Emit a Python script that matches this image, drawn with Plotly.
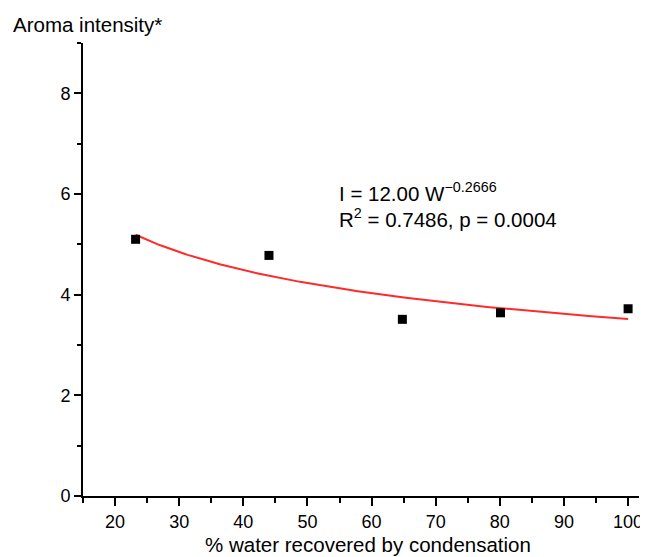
import plotly.graph_objects as go
import numpy as np

# Data
water_pct = [23.2, 44.0, 64.8, 80.1, 100.0]
aroma = [5.10, 4.78, 3.51, 3.64, 3.72]

# Fitted power law shown on chart: I = 12.00 W^-0.2666
fit_a = 12.00
fit_b = -0.2666
fit_x_start = 23.2
fit_x_end = 100.0

x_tick_vals = [20, 30, 40, 50, 60, 70, 80, 90, 100]
y_tick_vals = [0, 2, 4, 6, 8]

# page is rendered with an 8px body margin; compensate
OFF = 8
PAGE_W, PAGE_H = 648, 557
W, H = PAGE_W - OFF, PAGE_H - OFF
# plot area in page pixels: left 83, right 643, top 43, bottom 496
L = 83 - OFF
T = 43 - OFF
R = W - (643 - OFF)
B = H - (496 - OFF)
pw, ph = W - L - R, H - T - B

def px_x(p):
    return (p - OFF - L) / pw

def px_y(p):
    return (H - B - (p - OFF)) / ph

fit_x = np.linspace(fit_x_start, fit_x_end, 200)
fit_y = fit_a * fit_x ** fit_b

FONT = "Liberation Sans, Arial, sans-serif"

fig = go.Figure()
fig.add_trace(go.Scatter(x=fit_x, y=fit_y, mode="lines",
                         line=dict(color="#ff2a2a", width=2), hoverinfo="skip",
                         showlegend=False))
fig.add_trace(go.Scatter(x=water_pct, y=aroma, mode="markers",
                         marker=dict(symbol="square", size=9, color="black"),
                         showlegend=False))

axis_common = dict(showgrid=False, zeroline=False, showline=True, linecolor="black",
                   linewidth=2, ticks="outside", tickcolor="black", tickwidth=2,
                   tickfont=dict(family=FONT, size=18, color="black"))

fig.update_xaxes(range=[15, 101.7], tickvals=x_tick_vals, ticklen=8,
                 minor=dict(dtick=5, tick0=0, ticks="outside", ticklen=5,
                            tickwidth=2, tickcolor="black"),
                 **axis_common)
fig.update_yaxes(range=[0, 9], tickvals=y_tick_vals, ticklen=7,
                 minor=dict(dtick=1, tick0=0, ticks="outside", ticklen=4,
                            tickwidth=2, tickcolor="black"),
                 **axis_common)

ann_font = dict(family=FONT, size=20.5, color="black")
fig.add_annotation(xref="paper", yref="paper", x=px_x(10), y=px_y(24),
                   xanchor="left", yanchor="middle", showarrow=False,
                   text="Aroma intensity*", font=ann_font)
fig.add_annotation(xref="paper", yref="paper", x=px_x(370), y=px_y(544),
                   xanchor="center", yanchor="middle", showarrow=False,
                   text="% water recovered by condensation", font=ann_font)
fig.add_annotation(xref="paper", yref="paper", x=px_x(339), y=px_y(192),
                   xanchor="left", yanchor="middle", showarrow=False,
                   text="I = 12.00 W<sup>\u22120.2666</sup>", font=ann_font)
fig.add_annotation(xref="paper", yref="paper", x=px_x(339), y=px_y(218),
                   xanchor="left", yanchor="middle", showarrow=False,
                   text="R<sup>2</sup> = 0.7486, p = 0.0004", font=ann_font)

fig.update_layout(width=W, height=H, margin=dict(l=L, r=R, t=T, b=B),
                  plot_bgcolor="white", paper_bgcolor="white",
                  font=dict(family=FONT, color="black"))

fig.write_html("out.html")
